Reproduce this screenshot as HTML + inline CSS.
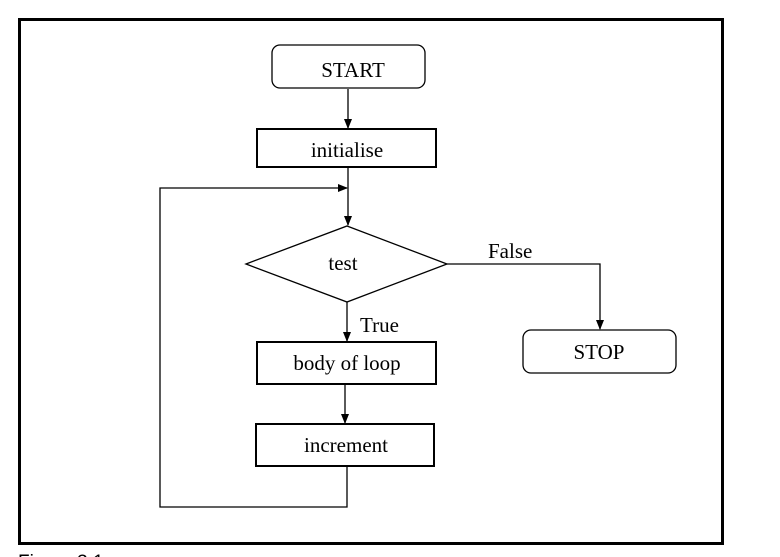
<!DOCTYPE html>
<html><head><style>
html,body{margin:0;padding:0;background:#fff;width:780px;height:557px;overflow:hidden}
text{font-family:"Liberation Serif",serif;font-size:21px;fill:#000}
</style></head><body>
<svg width="780" height="557" viewBox="0 0 780 557" xmlns="http://www.w3.org/2000/svg">
<defs><marker id="a" markerWidth="10" markerHeight="10" refX="9" refY="5" orient="auto" markerUnits="userSpaceOnUse"><path d="M0,1 L10,5 L0,9 z" fill="#000"/></marker></defs>
<rect x="19.5" y="19.5" width="703" height="524" fill="none" stroke="#000" stroke-width="3"/>
<rect x="272" y="45" width="153" height="43" rx="8" fill="none" stroke="#000" stroke-width="1.3"/>
<text x="353" y="77" text-anchor="middle">START</text>
<line x1="348" y1="89" x2="348" y2="128" stroke="#000" stroke-width="1.3" marker-end="url(#a)"/>
<rect x="257" y="129" width="179" height="38" fill="none" stroke="#000" stroke-width="2"/>
<text x="347" y="157" text-anchor="middle">initialise</text>
<line x1="348" y1="168" x2="348" y2="225" stroke="#000" stroke-width="1.3" marker-end="url(#a)"/>
<polyline points="347,466 347,507 160,507 160,188 347,188" fill="none" stroke="#000" stroke-width="1.3" marker-end="url(#a)"/>
<polygon points="347,226 447,264 347,302 246,264" fill="none" stroke="#000" stroke-width="1.3"/>
<text x="343" y="270" text-anchor="middle">test</text>
<polyline points="447,264 600,264 600,329" fill="none" stroke="#000" stroke-width="1.3" marker-end="url(#a)"/>
<text x="488" y="258">False</text>
<rect x="523" y="330" width="153" height="43" rx="8" fill="none" stroke="#000" stroke-width="1.3"/>
<text x="599" y="359" text-anchor="middle">STOP</text>
<line x1="347" y1="302" x2="347" y2="341" stroke="#000" stroke-width="1.3" marker-end="url(#a)"/>
<text x="360" y="332">True</text>
<rect x="257" y="342" width="179" height="42" fill="none" stroke="#000" stroke-width="2"/>
<text x="347" y="370" text-anchor="middle">body of loop</text>
<line x1="345" y1="385" x2="345" y2="423" stroke="#000" stroke-width="1.3" marker-end="url(#a)"/>
<rect x="256" y="424" width="178" height="42" fill="none" stroke="#000" stroke-width="2"/>
<text x="346" y="452" text-anchor="middle">increment</text>
<text x="18" y="568" style="font-family:'Liberation Sans',sans-serif;font-size:19px">Figure 3.1</text>
</svg>
</body></html>
